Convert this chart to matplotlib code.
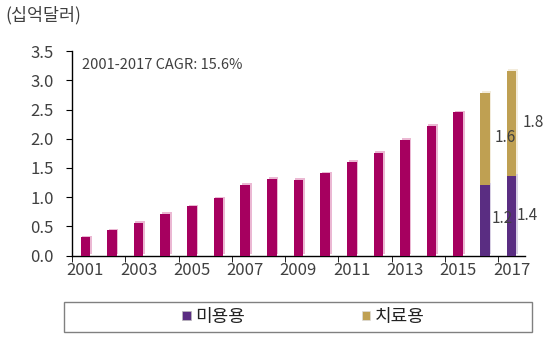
import matplotlib
matplotlib.use("Agg")
import matplotlib.pyplot as plt
import matplotlib.patheffects as pe
from matplotlib.patches import Rectangle, Patch
import numpy as np

plt.rcParams['font.family'] = ['Noto Sans CJK KR', 'DejaVu Sans']

years = list(range(2001, 2018))
total_early = [0.31, 0.43, 0.56, 0.71, 0.84, 0.98, 1.21, 1.31, 1.30, 1.41,
               1.60, 1.76, 1.98, 2.22, 2.45]
cosmetic = [1.21, 1.37]      # 미용용 2016, 2017
therapeutic = [1.57, 1.79]   # 치료용 2016, 2017
yticks = [0.0, 0.5, 1.0, 1.5, 2.0, 2.5, 3.0, 3.5]
xlabels = [str(y) for y in years[::2]]

magenta = '#A6005F'
purple = '#5A2D82'
gold = '#BFA052'
txt = '#404040'

fig = plt.figure(figsize=(5.56, 3.43), dpi=100)
ax = fig.add_axes([0.1295, 0.255, 0.8145, 0.596])

x = np.arange(len(years))
w = 0.36

def fx(col):
    return [pe.SimplePatchShadow(offset=(1.2, 1.2), shadow_rgbFace=col, alpha=1), pe.Normal()]

ax.bar(x[:len(total_early)], total_early, width=w, color=magenta, path_effects=fx('#EBB8D3'), zorder=3)
xs = x[len(total_early):]
ax.bar(xs, cosmetic, width=w, color=purple, path_effects=fx('#D8D0E4'), zorder=3)
ax.bar(xs, therapeutic, width=w, bottom=cosmetic, color=gold, path_effects=fx('#F3ECDC'), zorder=3)

# value labels (offsets relative to bar centre / segment)
c_dx = [0.26, 0.2]
c_fy = [0.53, 0.5]
t_dx = [0.37, 0.43]
t_fy = [0.52, 0.51]
for i, (xi, c, t) in enumerate(zip(xs, cosmetic, therapeutic)):
    ax.text(xi + c_dx[i], c * c_fy[i], f'{c:.1f}', color=txt, fontsize=11,
            ha='left', va='center', fontweight='light', zorder=5)
    ax.text(xi + t_dx[i], c + t * t_fy[i], f'{t:.1f}', color=txt, fontsize=11,
            ha='left', va='center', fontweight='light', zorder=5)

ax.set_xlim(-0.5, len(years) - 0.5)
ax.set_ylim(0, 3.5)
ax.set_yticks(yticks)
ax.set_yticklabels([f'{v:.1f}' for v in yticks])
ax.set_xticks(x[::2])
ax.set_xticklabels(xlabels)
ax.set_xticks(np.arange(-0.5, len(years) - 1, 2), minor=True)
ax.tick_params(axis='x', which='major', length=0, pad=5)
ax.tick_params(axis='x', which='minor', length=4, direction='out', color='black')
ax.tick_params(axis='y', length=4, direction='out', color='black', pad=9)
ax.tick_params(labelsize=12, labelcolor=txt)
for lab in ax.get_xticklabels() + ax.get_yticklabels():
    lab.set_fontweight('light')
for s in ['top', 'right']:
    ax.spines[s].set_visible(False)
for s in ['left', 'bottom']:
    ax.spines[s].set_color('black')
    ax.spines[s].set_linewidth(1.0)

ax.text(0.022, 0.93, '2001-2017 CAGR: 15.6%', transform=ax.transAxes, color=txt,
        fontsize=10.5, ha='left', va='center', fontweight='light')
fig.text(0.01, 0.955, '(십억달러)', color=txt, fontsize=12.5, ha='left', va='center', fontweight='light')

# legend box
fig.patches.append(Rectangle((64 / 556, 1 - 332 / 343), (532 - 64) / 556, 30 / 343,
                             transform=fig.transFigure, fill=False, edgecolor='#808080',
                             linewidth=1.0))
handles = [Patch(facecolor=purple, edgecolor='#BBBBBB', linewidth=0.5),
           Patch(facecolor=gold, edgecolor='#DDDDDD', linewidth=0.5)]
leg = fig.legend(handles, ['미용용', '치료용'], loc='center', bbox_to_anchor=(0.546, 1 - 317 / 343),
                 ncol=2, frameon=False, handlelength=0.45, handleheight=0.45, handletextpad=0.25,
                 columnspacing=6.5, fontsize=13)
for t in leg.get_texts():
    t.set_color('#222222')
    t.set_fontweight('light')

fig.savefig('out.png', dpi=100)
